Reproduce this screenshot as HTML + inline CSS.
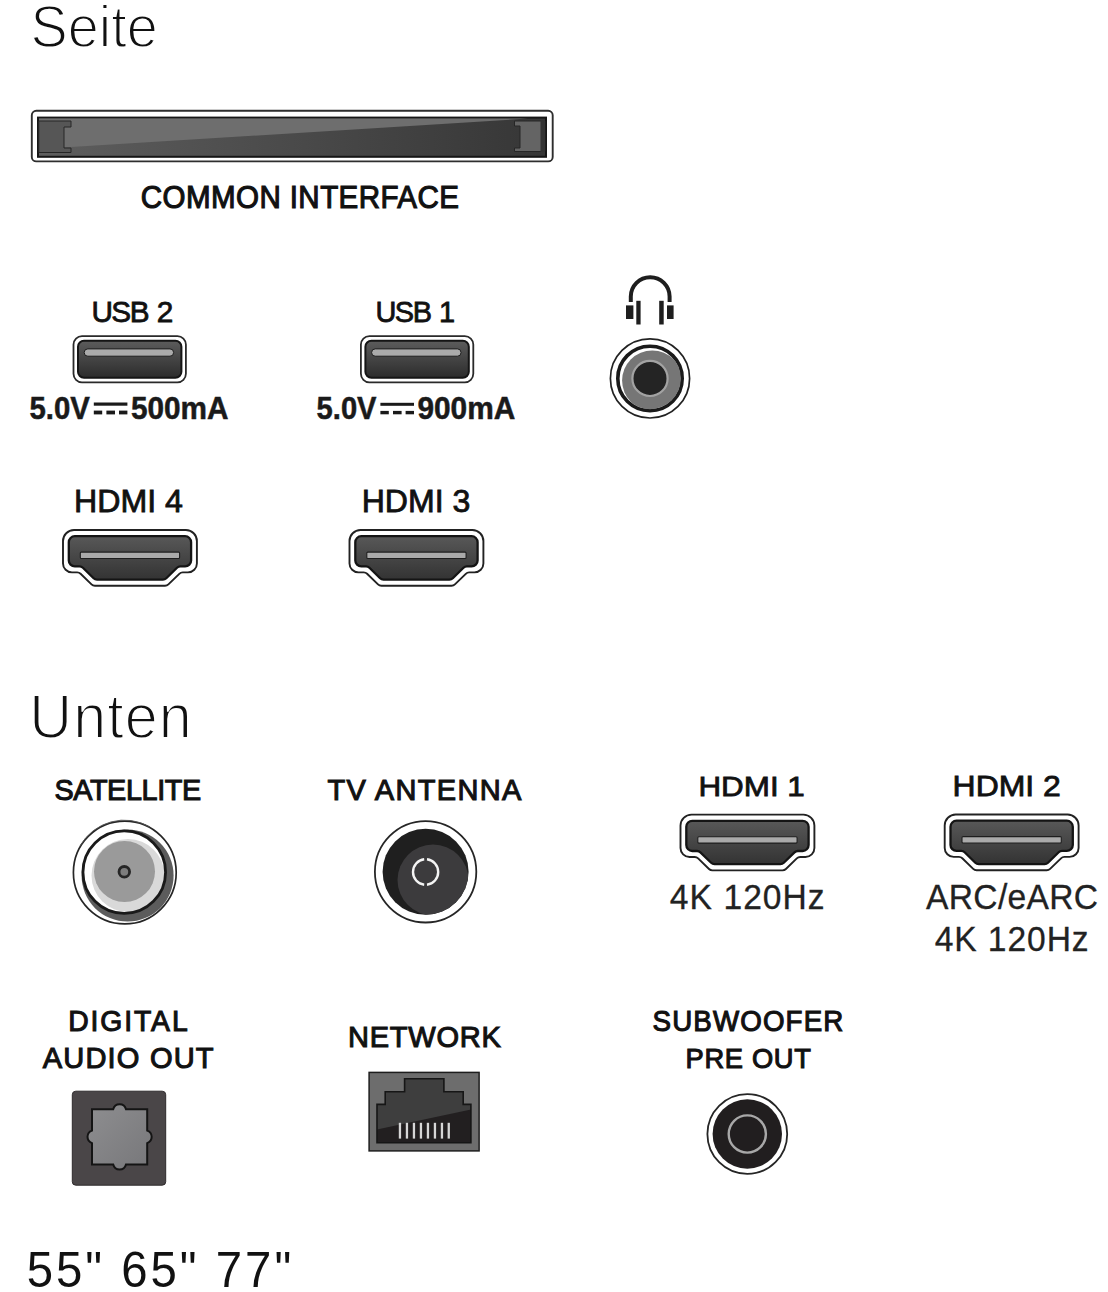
<!DOCTYPE html>
<html><head><meta charset="utf-8"><title>Anschlüsse</title>
<style>
html,body{margin:0;padding:0;background:#fff;}
body{width:1108px;height:1292px;overflow:hidden;position:relative;}
svg{position:absolute;left:0;top:0;display:block;}
text{font-family:"Liberation Sans",sans-serif;}
</style></head><body>
<svg width="1108" height="1292" viewBox="0 0 1108 1292">
<rect x="0" y="0" width="1108" height="1292" fill="#fff"/>
<defs>
<linearGradient id="gUsb" x1="0" y1="0" x2="0" y2="1"><stop offset="0" stop-color="#5c5c5c"/><stop offset="1" stop-color="#2c2c2c"/></linearGradient>
<linearGradient id="gHdmi" x1="0" y1="0" x2="0" y2="1"><stop offset="0" stop-color="#585858"/><stop offset="1" stop-color="#333"/></linearGradient>
<linearGradient id="gCiLow" x1="0" y1="0" x2="1" y2="0"><stop offset="0" stop-color="#5e5e5e"/><stop offset="1" stop-color="#363636"/></linearGradient>
<linearGradient id="gOpt" x1="0" y1="0" x2="1" y2="1"><stop offset="0" stop-color="#8e8e90"/><stop offset="1" stop-color="#77777a"/></linearGradient>
<clipPath id="cJack"><circle cx="650" cy="378.4" r="30.8"/></clipPath>
<clipPath id="cAnt"><circle cx="425.6" cy="871.8" r="43"/></clipPath>
<clipPath id="cSat"><circle cx="124.25" cy="872.15" r="41.3"/></clipPath>
<clipPath id="cNet"><path d="M377 1142.7V1104.4H385.2V1091.7H404.6V1078.8H443.9V1091.7H463.2V1104.4H470.9V1142.7Z"/></clipPath>
<g id="usb">
 <rect x="0.9" y="0.9" width="112.4" height="46.2" rx="8.5" fill="#fff" stroke="#2a2a2a" stroke-width="1.8"/>
 <rect x="5.4" y="5.6" width="103.4" height="36.9" rx="6" fill="url(#gUsb)" stroke="#151515" stroke-width="2"/>
 <rect x="11.6" y="13.7" width="89.4" height="7.3" rx="3.6" fill="#ababab" stroke="#1e1e1e" stroke-width="1"/>
</g>
<g id="hdmi">
 <path d="M11 0H122.9A11 11 0 0 1 133.9 11V33.4A9 9 0 0 1 124.9 42.4H119.7Q117.7 42.4 116.3 43.8L105.4 54.4Q104 55.8 102 55.8H31.9Q29.9 55.8 28.5 54.4L17.6 43.8Q16.2 42.4 14.2 42.4H9A9 9 0 0 1 0 33.4V11A11 11 0 0 1 11 0Z" fill="#fff" stroke="#222" stroke-width="1.9" stroke-linejoin="round"/>
 <path d="M11.8 6.2H122.1A6 6 0 0 1 128.1 12.2V30.4A6 6 0 0 1 122.1 36.4H117.4Q115.4 36.4 114 37.8L103.3 48.2Q101.9 49.6 99.9 49.6H34Q32 49.6 30.6 48.2L19.9 37.8Q18.5 36.4 16.5 36.4H11.8A6 6 0 0 1 5.8 30.4V12.2A6 6 0 0 1 11.8 6.2Z" fill="url(#gHdmi)" stroke="#141414" stroke-width="2.3" stroke-linejoin="round"/>
 <rect x="17.3" y="22.1" width="99.3" height="6.4" rx="1" fill="#aaa" stroke="#1e1e1e" stroke-width="1.1"/>
</g>
</defs>

<!-- Common interface slot -->
<rect x="31.8" y="110.8" width="520.9" height="50.6" rx="4.5" fill="#fff" stroke="#2e2e2e" stroke-width="1.9"/>
<rect x="38" y="117.6" width="508" height="39.2" fill="url(#gCiLow)" stroke="#161616" stroke-width="2"/>
<polygon points="39,118.6 39,149 528,118.6" fill="#6e6e6e"/>
<path d="M38.8 121H71V127H64V148H71V152.5H38.8Z" fill="#565656" stroke="#262626" stroke-width="1"/>
<path d="M545 121H514.5V126H520V148H514.5V151.5H545Z" fill="#646464" stroke="#262626" stroke-width="1"/>
<rect x="540.5" y="120" width="4.5" height="32" fill="#333"/>

<!-- USB ports -->
<use href="#usb" x="72.6" y="335.2"/>
<use href="#usb" x="360" y="335.2"/>
<!-- DC symbols -->
<g fill="#1a1a1a">
<rect x="93.8" y="402.5" width="33.6" height="3.2"/>
<rect x="93.8" y="410.6" width="8.4" height="3.8"/><rect x="106.4" y="410.6" width="8.6" height="3.8"/><rect x="119.0" y="410.6" width="8.4" height="3.8"/>
<rect x="380.4" y="402.8" width="33.6" height="3.0"/>
<rect x="380.4" y="410.9" width="8.4" height="3.4"/><rect x="393" y="410.9" width="8.6" height="3.4"/><rect x="405.6" y="410.9" width="8.4" height="3.4"/>
</g>

<!-- Headphone icon -->
<path d="M630.8 302V296.6A19.4 19.4 0 0 1 669.6 296.6V302" fill="none" stroke="#1e1e1e" stroke-width="4"/>
<rect x="626" y="305.4" width="7.4" height="13.6" fill="#1e1e1e"/>
<rect x="667" y="305.4" width="6.6" height="13.6" fill="#1e1e1e"/>
<rect x="636.3" y="300.8" width="4.3" height="23.7" fill="#1e1e1e"/>
<rect x="659.2" y="300.8" width="4.5" height="23.7" fill="#1e1e1e"/>
<!-- Headphone jack -->
<circle cx="650" cy="378.4" r="39.6" fill="#fff" stroke="#222" stroke-width="1.7"/>
<circle cx="650" cy="378.4" r="32.2" fill="#fff" stroke="#1a1a1a" stroke-width="3.6"/>
<g clip-path="url(#cJack)"><circle cx="652.3" cy="380.6" r="30.2" fill="#767676"/></g>
<circle cx="650" cy="378.4" r="17.6" fill="#242424" stroke="#a3a3a3" stroke-width="2.2"/>

<!-- HDMI ports -->
<use href="#hdmi" x="63" y="530"/>
<use href="#hdmi" x="349.5" y="530"/>
<use href="#hdmi" x="680.5" y="814.6"/>
<use href="#hdmi" x="944.7" y="814.5"/>

<!-- Satellite -->
<circle cx="124.8" cy="872.5" r="51.4" fill="#fff" stroke="#262626" stroke-width="1.7"/>
<path d="M80 846A51 51 0 0 1 150 827" fill="none" stroke="#555" stroke-width="0.9"/>
<circle cx="127.6" cy="875.6" r="46" fill="#5c5c5c"/>
<circle cx="124.25" cy="872.15" r="41.3" fill="#fff"/>
<g clip-path="url(#cSat)"><circle cx="128" cy="875.5" r="36.5" fill="#d9d9d9"/></g>
<circle cx="124.25" cy="872.15" r="41.3" fill="none" stroke="#1a1a1a" stroke-width="2.8"/>
<circle cx="124.5" cy="871.5" r="30.5" fill="#9a9a9a"/>
<circle cx="124.3" cy="871.8" r="5.3" fill="#7d7d7d" stroke="#262626" stroke-width="2.8"/>

<!-- TV antenna -->
<circle cx="425.6" cy="871.8" r="50.7" fill="#fff" stroke="#262626" stroke-width="1.8"/>
<circle cx="425.6" cy="871.8" r="43" fill="#1f1f1f"/>
<g clip-path="url(#cAnt)"><circle cx="433" cy="880" r="35.5" fill="#3c3b3d"/></g>
<path d="M424.2 859.3A12.8 12.8 0 0 0 424.2 884.7M427 859.3A12.8 12.8 0 0 1 427 884.7" fill="none" stroke="#f4f4f4" stroke-width="2.4"/>

<!-- Digital audio out -->
<rect x="72.3" y="1091.2" width="93.4" height="94" rx="3.5" fill="#4a4648" stroke="#2e2a2c" stroke-width="1"/>
<path d="M92 1109.2H113.2A6.6 6.6 0 0 1 126 1109.2H147.2V1130.6A6.6 6.6 0 0 1 147.2 1143.1V1164.5H126A6.6 6.6 0 0 1 113.2 1164.5H92V1143.1A6.6 6.6 0 0 1 92 1130.6Z" fill="url(#gOpt)" stroke="#141414" stroke-width="2"/>

<!-- Network -->
<rect x="369.1" y="1072.4" width="110" height="78.5" fill="#6d6d6d" stroke="#1e1e1e" stroke-width="1.5"/>
<path d="M377 1142.7V1104.4H385.2V1091.7H404.6V1078.8H443.9V1091.7H463.2V1104.4H470.9V1142.7Z" fill="#3e3e3e"/>
<g clip-path="url(#cNet)"><polygon points="370,1131 478,1108 478,1150 370,1150" fill="#221f20"/></g>
<path d="M377 1142.7V1104.4H385.2V1091.7H404.6V1078.8H443.9V1091.7H463.2V1104.4H470.9V1142.7Z" fill="none" stroke="#161616" stroke-width="1.6"/>
<g fill="#d6d6d6">
<rect x="398.8" y="1122.8" width="2.3" height="15.8"/><rect x="405.8" y="1122.8" width="2.3" height="15.8"/><rect x="412.8" y="1122.8" width="2.3" height="15.8"/><rect x="419.8" y="1122.8" width="2.3" height="15.8"/>
<rect x="426.8" y="1122.8" width="2.3" height="15.8"/><rect x="433.8" y="1122.8" width="2.3" height="15.8"/><rect x="440.8" y="1122.8" width="2.3" height="15.8"/><rect x="447.6" y="1122.8" width="2.3" height="15.8"/>
</g>

<!-- Subwoofer -->
<circle cx="747.3" cy="1134" r="39.9" fill="#fff" stroke="#262626" stroke-width="1.8"/>
<circle cx="747.3" cy="1134" r="34.7" fill="#211e1f"/>
<circle cx="747.3" cy="1134" r="18.6" fill="none" stroke="#a8a8a8" stroke-width="2.4"/>

<text transform="translate(30.62 47.02) scale(0.95 1)" font-size="58.73" textLength="133.86" lengthAdjust="spacing" fill="#111" stroke="#fff" stroke-width="1.8">Seite</text>
<text transform="translate(140.86 208.26) scale(0.96 1)" font-size="30.76" textLength="331.22" lengthAdjust="spacing" fill="#111" stroke="#111" stroke-width="1.1">COMMON INTERFACE</text>
<text transform="translate(91.40 321.82) scale(0.98 1)" font-size="30.32" textLength="83.57" lengthAdjust="spacing" fill="#111" word-spacing="2" stroke="#111" stroke-width="0.8">USB 2</text>
<text transform="translate(375.38 321.82) scale(0.98 1)" font-size="29.49" textLength="81.35" lengthAdjust="spacing" fill="#111" word-spacing="2" stroke="#111" stroke-width="0.8">USB 1</text>
<text x="29.55" y="418.82" font-size="31.02" textLength="60.39" lengthAdjust="spacingAndGlyphs" fill="#1a1a1a" font-weight="700" stroke="#1a1a1a" stroke-width="0.5">5.0V</text>
<text x="130.95" y="418.82" font-size="31.02" textLength="97.66" lengthAdjust="spacingAndGlyphs" fill="#1a1a1a" font-weight="700" stroke="#1a1a1a" stroke-width="0.5">500mA</text>
<text x="316.59" y="418.82" font-size="31.02" textLength="59.96" lengthAdjust="spacingAndGlyphs" fill="#1a1a1a" font-weight="700" stroke="#1a1a1a" stroke-width="0.5">5.0V</text>
<text x="417.40" y="418.82" font-size="31.02" textLength="97.99" lengthAdjust="spacingAndGlyphs" fill="#1a1a1a" font-weight="700" stroke="#1a1a1a" stroke-width="0.5">900mA</text>
<text x="73.95" y="512.32" font-size="30.73" textLength="109.00" lengthAdjust="spacingAndGlyphs" fill="#111" stroke="#111" stroke-width="0.8">HDMI 4</text>
<text x="361.71" y="512.32" font-size="30.77" textLength="108.61" lengthAdjust="spacingAndGlyphs" fill="#111" stroke="#111" stroke-width="0.8">HDMI 3</text>
<text transform="translate(29.25 738.08) scale(0.95 1)" font-size="62.38" textLength="171.16" lengthAdjust="spacing" fill="#111" stroke="#fff" stroke-width="1.8">Unten</text>
<text transform="translate(54.39 799.58) scale(0.95 1)" font-size="30.32" textLength="154.54" lengthAdjust="spacing" fill="#111" stroke="#111" stroke-width="1.1">SATELLITE</text>
<text transform="translate(327.40 799.64) scale(0.96 1)" font-size="30.20" textLength="201.98" lengthAdjust="spacing" fill="#111" stroke="#111" stroke-width="1.1">TV ANTENNA</text>
<text x="698.48" y="796.26" font-size="28.53" textLength="106.34" lengthAdjust="spacingAndGlyphs" fill="#111" stroke="#111" stroke-width="0.8">HDMI 1</text>
<text x="952.58" y="796.26" font-size="28.84" textLength="108.32" lengthAdjust="spacingAndGlyphs" fill="#111" stroke="#111" stroke-width="0.8">HDMI 2</text>
<text transform="translate(669.87 909.23) scale(0.96 1)" font-size="35.00" textLength="161.27" lengthAdjust="spacing" fill="#222" stroke="#222" stroke-width="0.3">4K 120Hz</text>
<text transform="translate(926.01 909.43) scale(0.96 1)" font-size="35.00" textLength="179.26" lengthAdjust="spacing" fill="#222" stroke="#222" stroke-width="0.3">ARC/eARC</text>
<text transform="translate(934.68 950.61) scale(0.96 1)" font-size="35.00" textLength="160.40" lengthAdjust="spacing" fill="#222" stroke="#222" stroke-width="0.3">4K 120Hz</text>
<text transform="translate(68.19 1031.20) scale(0.96 1)" font-size="29.49" textLength="124.45" lengthAdjust="spacing" fill="#111" stroke="#111" stroke-width="1.1">DIGITAL</text>
<text transform="translate(42.72 1068.32) scale(0.96 1)" font-size="30.32" textLength="178.07" lengthAdjust="spacing" fill="#111" stroke="#111" stroke-width="1.1">AUDIO OUT</text>
<text transform="translate(347.95 1046.64) scale(0.96 1)" font-size="30.22" textLength="159.35" lengthAdjust="spacing" fill="#111" stroke="#111" stroke-width="1.1">NETWORK</text>
<text transform="translate(652.56 1031.26) scale(0.96 1)" font-size="28.87" textLength="198.65" lengthAdjust="spacing" fill="#111" stroke="#111" stroke-width="1.1">SUBWOOFER</text>
<text transform="translate(685.58 1067.82) scale(0.96 1)" font-size="28.42" textLength="130.53" lengthAdjust="spacing" fill="#111" stroke="#111" stroke-width="1.1">PRE OUT</text>
<text transform="translate(26.68 1286.69) scale(0.94 1)" font-size="50.33" textLength="281.39" lengthAdjust="spacing" fill="#111">55&quot; 65&quot; 77&quot;</text>
</svg>
</body></html>
